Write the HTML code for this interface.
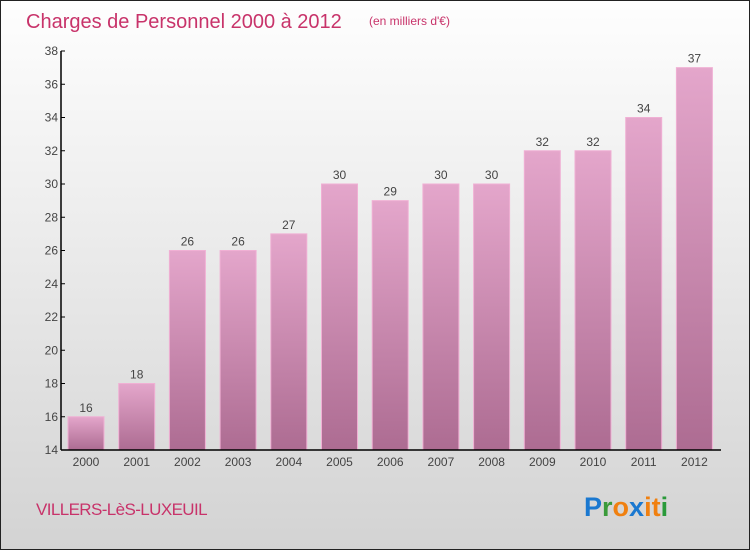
<!DOCTYPE html>
<html><head><meta charset="utf-8"><style>
body{margin:0;width:750px;height:550px;overflow:hidden;font-family:"Liberation Sans",sans-serif}
#wrap{position:relative;width:748px;height:548px;border:1px solid #222;background:linear-gradient(#fefefe,#d3d3d3)}
</style></head><body>
<div id="wrap">
<svg id="chart" width="748" height="548">
<defs>
<linearGradient id="bg" x1="0" y1="0" x2="0" y2="1"><stop offset="0" stop-color="#e4a6cb"/><stop offset="1" stop-color="#ad6c92"/></linearGradient>
</defs>
<text x="25" y="27" font-size="20" fill="#c8336a">Charges de Personnel 2000 à 2012</text>
<text x="368" y="24" font-size="12" fill="#c8336a">(en milliers d'€)</text>
<text x="35" y="514" font-size="17" letter-spacing="-0.6" fill="#c8336a">VILLERS-LèS-LUXEUIL</text>
<g font-size="27" font-weight="bold" font-family="'Liberation Sans',sans-serif">
<text x="583" y="515"><tspan fill="#1a78d0">P</tspan><tspan fill="#3a9a3a">r</tspan><tspan fill="#f08010">o</tspan><tspan fill="#1a78d0">x</tspan><tspan fill="#f08010">i</tspan><tspan fill="#f08010">t</tspan><tspan fill="#2a9a3a">i</tspan></text>
</g>
<g id="bars"></g>
<g id="axes"></g>
</svg>
</div>
<script>
const categories=["2000","2001","2002","2003","2004","2005","2006","2007","2008","2009","2010","2011","2012"];
const values=[16,18,26,26,27,30,29,30,30,32,32,34,37];
const yTicks=[14,16,18,20,22,24,26,28,30,32,34,36,38];
const yMin=14,yMax=38,top0=50,bot=449,x0=85,step=50.7,bw=36,axisX=60;
const ns="http://www.w3.org/2000/svg";
function y(v){return bot-(v-yMin)/(yMax-yMin)*(bot-top0);}
function xc(i){return x0+i*step;}
function mk(t,a,p){const e=document.createElementNS(ns,t);for(const k in a)e.setAttribute(k,a[k]);p.appendChild(e);return e;}
const bars=document.getElementById('bars'),axes=document.getElementById('axes');
values.forEach((v,i)=>{
 const r=mk('rect',{x:xc(i)-bw/2,y:y(v),width:bw,height:bot-y(v),fill:'url(#bg)',stroke:'#f0b0d4','stroke-width':1},bars);
 
 
 const t=mk('text',{x:xc(i),y:y(v)-5,'text-anchor':'middle','font-size':12,fill:'#444'},bars);
 t.textContent=v;
 
 
 const c=mk('text',{x:xc(i),y:bot+16,'text-anchor':'middle','font-size':12,fill:'#444'},axes);
 c.textContent=categories[i];
 
 
});
const ya=mk('line',{x1:axisX,y1:top0,x2:axisX,y2:bot,stroke:'#000','stroke-width':1.5},axes);


const xa=mk('line',{x1:axisX,y1:bot,x2:720,y2:bot,stroke:'#000','stroke-width':1.5},axes);


yTicks.forEach(v=>{
 mk('line',{x1:axisX,y1:y(v),x2:axisX+4,y2:y(v),stroke:'#000'},axes);
 const t=mk('text',{x:axisX-3,y:y(v)+4,'text-anchor':'end','font-size':12,fill:'#444'},axes);
 t.textContent=v;
 
 
});
</script>
</body></html>
